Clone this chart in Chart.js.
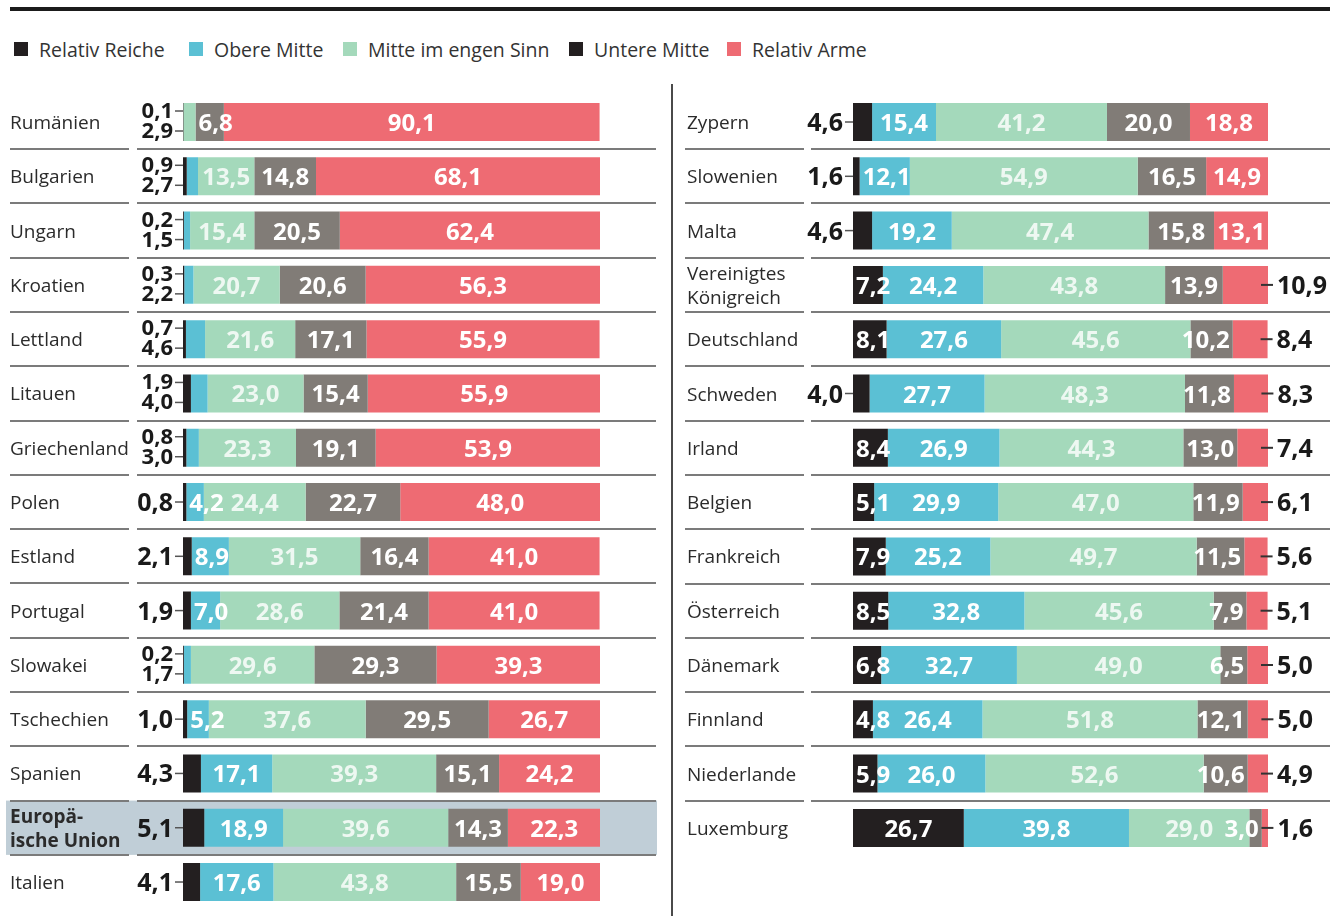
<!DOCTYPE html>
<html>
<head>
<meta charset="utf-8">
<script src="https://cdn.jsdelivr.net/npm/chart.js@4"></script>
<style>
  body { margin: 0; background: #fff; font-family: 'Open Sans', sans-serif; }
  #page { position: relative; width: 1341px; height: 916px; overflow: hidden; }
  .rule { position: absolute; left: 10px; top: 7px; width: 1320px; height: 4px; background: #1b1b1b; }
  .divider { position: absolute; left: 671px; top: 84px; width: 2px; height: 832px; background: #4a4a4a; }
  .leg { position: absolute; top: 38px; height: 22px; display: flex; align-items: center; font-size: 19.5px; color: #333; white-space: nowrap; }
  .leg span.box { width: 14px; height: 14px; margin-right: 11px; display: inline-block; }
  canvas { position: absolute; top: 85px; }
</style>
</head>
<body>
<div id="page">
  <div class="rule"></div>
  <div id="legend"></div>
  <div class="divider"></div>
  <canvas id="left-chart" width="670" height="831" style="left:0px"></canvas>
  <canvas id="right-chart" width="670" height="831" style="left:671px"></canvas>
</div>
<script>
const seriesNames = ['Relativ Reiche', 'Obere Mitte', 'Mitte im engen Sinn', 'Untere Mitte', 'Relativ Arme']
const seriesColors = ['#231f20', '#5bc0d4', '#a4d9bb', '#817c77', '#ee6b73']
const legendColors = ['#231f20', '#5bc0d4', '#a4d9bb', '#231f20', '#ee6b73']

// linke Spalte
const leftCountries = ['Rumänien', 'Bulgarien', 'Ungarn', 'Kroatien', 'Lettland', 'Litauen', 'Griechenland', 'Polen',
  'Estland', 'Portugal', 'Slowakei', 'Tschechien', 'Spanien', 'Europä-\nische Union', 'Italien']
const leftRich   = [0.1, 0.9, 0.2, 0.3, 0.7, 1.9, 0.8, 0.8, 2.1, 1.9, 0.2, 1.0, 4.3, 5.1, 4.1]
const leftUpper  = [0.0, 2.7, 1.5, 2.2, 4.6, 4.0, 3.0, 4.2, 8.9, 7.0, 1.7, 5.2, 17.1, 18.9, 17.6]
const leftMiddle = [2.9, 13.5, 15.4, 20.7, 21.6, 23.0, 23.3, 24.4, 31.5, 28.6, 29.6, 37.6, 39.3, 39.6, 43.8]
const leftLower  = [6.8, 14.8, 20.5, 20.6, 17.1, 15.4, 19.1, 22.7, 16.4, 21.4, 29.3, 29.5, 15.1, 14.3, 15.5]
const leftPoor   = [90.1, 68.1, 62.4, 56.3, 55.9, 55.9, 53.9, 48.0, 41.0, 41.0, 39.3, 26.7, 24.2, 22.3, 19.0]
const leftOutside = [2, 2, 2, 2, 2, 2, 2, 1, 1, 1, 2, 1, 1, 1, 1]

// rechte Spalte
const rightCountries = ['Zypern', 'Slowenien', 'Malta', 'Vereinigtes\nKönigreich', 'Deutschland', 'Schweden', 'Irland',
  'Belgien', 'Frankreich', 'Österreich', 'Dänemark', 'Finnland', 'Niederlande', 'Luxemburg']
const rightRich   = [4.6, 1.6, 4.6, 7.2, 8.1, 4.0, 8.4, 5.1, 7.9, 8.5, 6.8, 4.8, 5.9, 26.7]
const rightUpper  = [15.4, 12.1, 19.2, 24.2, 27.6, 27.7, 26.9, 29.9, 25.2, 32.8, 32.7, 26.4, 26.0, 39.8]
const rightMiddle = [41.2, 54.9, 47.4, 43.8, 45.6, 48.3, 44.3, 47.0, 49.7, 45.6, 49.0, 51.8, 52.6, 29.0]
const rightLower  = [20.0, 16.5, 15.8, 13.9, 10.2, 11.8, 13.0, 11.9, 11.5, 7.9, 6.5, 12.1, 10.6, 3.0]
const rightPoor   = [18.8, 14.9, 13.1, 10.9, 8.4, 8.3, 7.4, 6.1, 5.6, 5.1, 5.0, 5.0, 4.9, 1.6]
const rightOutside = [1, 1, 1, 0, 0, 1, 0, 0, 0, 0, 0, 0, 0, 0]

// Legende
const legendLeft = [14, 189, 343, 569, 727]
const legendEl = document.getElementById('legend')
seriesNames.forEach((name, i) => {
  const item = document.createElement('div')
  item.setAttribute('class', 'leg')
  item.style.left = legendLeft[i] + 'px'
  const box = document.createElement('span')
  box.setAttribute('class', 'box')
  box.style.background = legendColors[i]
  const txt = document.createElement('span')
  txt.innerHTML = name
  item.appendChild(box)
  item.appendChild(txt)
  legendEl.appendChild(item)
})

function fmt(v){
  return v.toFixed(1).replace('.', ',')
}

function makeSets(cols){
  return cols.map((col, i) => ({
    label: seriesNames[i],
    data: col,
    backgroundColor: seriesColors[i],
    borderWidth: 0,
    barPercentage: 0.7,
    categoryPercentage: 1,
  }))
}

const rowLabels = {
  id: 'rowLabels',
  beforeDatasetsDraw(chart, args, opts) {
    const { ctx } = chart
    const yScale = chart.scales.y
    const n = chart.data.labels.length
    const step = yScale.getPixelForValue(1) - yScale.getPixelForValue(0)
    ctx.save()
    if (opts.highlight >= 0) {
      const yc = yScale.getPixelForValue(opts.highlight)
      ctx.fillStyle = '#c0ced7'
      ctx.fillRect(opts.bg[0], yc - step / 2, opts.bg[1] - opts.bg[0], step)
    }
    ctx.strokeStyle = '#7b7b7b'
    ctx.lineWidth = 2
    for (let i = 0; i < n - 1; i++) {
      const y = Math.round((yScale.getPixelForValue(i) + yScale.getPixelForValue(i + 1)) / 2)
      opts.rules.forEach(([a, b]) => {
        ctx.beginPath()
        ctx.moveTo(a, y)
        ctx.lineTo(b, y)
        ctx.stroke()
      })
    }
    ctx.restore()
  },
  afterDatasetsDraw(chart, args, opts) {
    const { ctx } = chart
    const yScale = chart.scales.y
    const sets = chart.data.datasets
    ctx.save()
    chart.data.labels.forEach((name, j) => {
      const yc = yScale.getPixelForValue(j)

      // Ländername
      ctx.fillStyle = '#2b2b2b'
      ctx.textAlign = 'left'
      ctx.textBaseline = 'alphabetic'
      ctx.font = (j === opts.highlight ? '700 ' : '400 ') + '19px "Open Sans"'
      const lines = name.split('\n')
      if (lines.length === 1) ctx.fillText(name, opts.nameX, yc + 7)
      else {
        ctx.fillText(lines[0], opts.nameX, yc - 5)
        ctx.fillText(lines[1], opts.nameX, yc + 19)
      }

      // Segmente
      const segs = sets.map((ds, i) => {
        const el = chart.getDatasetMeta(i).data[j]
        const { x, base } = el.getProps(['x', 'base'], true)
        return { i, v: ds.data[j], a: Math.min(x, base), b: Math.max(x, base) }
      })
      const x0 = chart.scales.x.getPixelForValue(0)
      const visible = segs.filter(s => s.v > 0)
      const outside = visible.slice(0, opts.outside[j])

      // links außen
      ctx.fillStyle = '#1a1a1a'
      ctx.strokeStyle = '#555'
      ctx.lineWidth = 1.5
      ctx.textAlign = 'right'
      if (outside.length === 2) {
        ctx.font = '700 22px "Open Sans"'
        const ys = [yc - 4, yc + 16]
        outside.forEach((s, k) => {
          ctx.fillText(fmt(s.v), x0 - 10, ys[k])
          ctx.beginPath()
          ctx.moveTo(x0 - 8, ys[k] - 7)
          ctx.lineTo(x0, ys[k] - 7)
          ctx.stroke()
        })
      } else if (outside.length === 1) {
        ctx.font = '700 25px "Open Sans"'
        ctx.fillText(fmt(outside[0].v), x0 - 10, yc + 9)
        ctx.beginPath()
        ctx.moveTo(x0 - 8, yc)
        ctx.lineTo(x0, yc)
        ctx.stroke()
      }

      // rechts außen (Relativ Arme)
      const poor = segs[4]
      let poorOutside = poor.v < 12
      if (poorOutside) {
        ctx.font = '700 25px "Open Sans"'
        ctx.textAlign = 'left'
        ctx.strokeStyle = '#333'
        ctx.lineWidth = 2
        ctx.beginPath()
        ctx.moveTo(poor.b - 7, yc)
        ctx.lineTo(poor.b + 5, yc)
        ctx.stroke()
        ctx.fillText(fmt(poor.v), poor.b + 9, yc + 9)
      }

      // innen
      ctx.font = '700 24px "Open Sans"'
      segs.forEach((s, k) => {
        if (s.v <= 0 || outside.includes(s)) return
        if (k === 4 && poorOutside) return
        const txt = fmt(s.v)
        const w = ctx.measureText(txt).width
        const width = s.b - s.a
        ctx.fillStyle = k === 2 ? '#eef8f2' : '#ffffff'
        if (w + 6 <= width) {
          ctx.textAlign = 'center'
          ctx.fillText(txt, (s.a + s.b) / 2, yc + 9)
        } else {
          const prev = k > 0 ? segs[k - 1].v : 0
          const next = k < 4 ? segs[k + 1].v : 0
          if (next >= prev) {
            ctx.textAlign = 'left'
            ctx.fillText(txt, s.a + 3, yc + 9)
          } else {
            ctx.textAlign = 'right'
            ctx.fillText(txt, s.b - 3, yc + 9)
          }
        }
      })
    })
    ctx.restore()
  }
}

function makeChart(canvasId, labels, cols, padding, opts){
  return new Chart(document.getElementById(canvasId), {
    type: 'bar',
    data: { labels: labels, datasets: makeSets(cols) },
    options: {
      indexAxis: 'y',
      responsive: false,
      animation: false,
      layout: { padding: padding },
      scales: {
        x: { stacked: true, min: 0, max: 100, display: false },
        y: { stacked: true, display: false },
      },
      plugins: {
        legend: { display: false },
        tooltip: { enabled: false },
        rowLabels: opts,
      },
    },
    plugins: [rowLabels],
  })
}

const leftChart = makeChart('left-chart', leftCountries,
  [leftRich, leftUpper, leftMiddle, leftLower, leftPoor],
  { left: 183, right: 70, top: 9.86, bottom: 6.84 },
  { nameX: 10, outside: leftOutside, highlight: 13, bg: [6, 657], rules: [[10, 129], [137, 656]] })

const rightChart = makeChart('right-chart', rightCountries,
  [rightRich, rightUpper, rightMiddle, rightLower, rightPoor],
  { left: 182, right: 73, top: 9.85, bottom: 60.95 },
  { nameX: 16, outside: rightOutside, highlight: -1, bg: [0, 0], rules: [[14, 133], [140, 659]] })
</script>
</body>
</html>
